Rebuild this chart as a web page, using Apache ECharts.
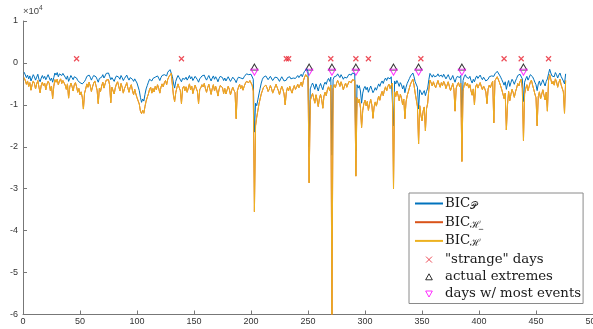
<!DOCTYPE html>
<html>
<head>
<meta charset="utf-8">
<script src="https://cdn.jsdelivr.net/npm/echarts@6/dist/echarts.min.js"></script>
<style>
  html, body { margin: 0; padding: 0; background: #fff; }
  #chart { width: 593px; height: 329px; }
</style>
</head>
<body>
<div id="chart"></div>
<script>
// Daily BIC values (one entry per day, starting at day 1)
const bicP = [
  -2200,-2600,-3500,-2900,-3800,-3100,-4300,-3600,-2800,-3300,-4100,-3400,-2700,-3900,-4500,-3600,-3000,-3700,-3200,-4000,
  -3400,-2800,-3100,-4200,-3600,-4600,-3500,-2400,-2900,-2300,-3300,-2600,-2200,-3000,-2500,-2400,-3400,-3900,-3100,-4400,
  -3700,-3000,-3500,-4000,-3300,-2900,-3600,-4200,-3800,-4700,-4300,-5000,-5400,-4400,-3900,-3200,-3600,-2900,-3400,-4100,
  -3500,-3000,-2600,-3300,-3900,-4600,-3700,-4100,-3400,-2800,-3600,-3100,-2500,-2700,-2400,-3200,-4000,-3500,-3800,-4400,
  -3600,-3100,-2700,-3400,-3900,-3000,-3500,-4200,-3700,-3300,-2900,-3600,-4100,-3500,-3200,-3900,-4400,-3800,-4300,-4800,
  -5200,-6600,-8200,-9400,-8600,-9100,-7500,-6200,-5400,-4600,-3900,-3500,-4300,-3700,-4100,-3400,-3800,-3100,-3600,-4200,
  -3500,-3000,-3400,-2800,-2500,-3100,-2200,-1900,-1600,-1400,-3200,-4800,-6000,-4400,-3600,-3000,-3500,-3900,-4500,-3700,
  -3300,-3900,-3400,-4100,-3600,-3000,-3800,-3300,-4200,-3700,-3200,-3600,-4000,-4600,-3800,-3500,-3100,-3400,-2900,-3600,
  -4100,-3500,-3000,-3700,-4300,-3600,-3100,-3900,-3300,-3800,-4500,-3700,-3200,-3000,-3500,-4200,-3600,-4300,-3800,-3300,
  -3700,-4400,-3900,-3400,-3800,-4100,-4700,-3900,-3400,-3000,-3600,-3200,-3800,-3300,-2900,-2600,-2400,-2800,-2500,-2700,
  -3100,-3900,-16500,-9600,-10200,-8800,-7400,-6100,-4800,-3900,-3400,-3600,-3100,-3500,-4000,-3700,-3200,-3600,-4200,-3800,
  -3400,-3000,-3500,-3900,-4400,-3800,-3300,-3700,-4300,-4600,-4100,-3500,-3900,-3300,-3800,-4200,-3600,-3200,-3700,-3400,
  -3000,-3500,-3100,-2700,-3300,-2500,-2000,-1600,-1400,-2100,-20000,-6200,-5400,-4800,-5500,-6300,-5000,-5800,-6700,-5600,
  -4900,-5700,-6400,-5200,-4600,-5100,-4200,-3700,-4400,-3400,-22000,-4000,-3300,-3700,-3100,-2600,-3000,-3500,-2800,-3300,
  -3900,-3400,-3000,-3600,-3200,-2700,-2500,-2900,-2400,-2200,-2600,-21000,-5200,-6000,-5400,-6700,-9600,-7200,-6100,-5600,
  -6400,-5800,-7000,-6200,-5500,-6300,-7100,-6600,-5900,-6500,-5700,-5000,-5600,-4800,-4300,-4900,-4100,-3600,-4200,-3500,
  -3200,-3800,-3300,-3000,-15000,-4300,-5000,-4200,-4800,-5600,-4700,-5200,-6200,-5400,-7100,-5800,-4900,-4300,-3700,-3100,
  -2700,-2400,-3300,-4500,-4900,-5800,-11000,-6400,-6900,-7600,-7200,-6600,-7800,-6800,-6000,-4000,-2500,-2900,-3400,-2800,
  -3300,-3700,-3100,-2600,-3200,-3600,-2900,-3400,-2700,-3100,-3800,-3300,-2800,-3500,-4100,-3600,-3000,-3900,-4600,-3700,
  -3200,-2900,-3500,-3000,-13000,-4200,-3300,-2800,-3400,-3000,-3700,-3200,-4200,-4800,-3900,-4500,-3600,-3100,-3700,-3300,
  -2900,-3500,-4000,-3400,-3800,-4300,-4700,-3900,-3300,-3700,-3100,-2700,-3200,-2600,-2300,-2000,-2200,-2900,-3400,-4000,
  -4600,-5300,-4500,-6300,-5000,-4200,-5600,-4700,-3900,-4400,-5100,-4300,-3700,-3000,-3400,-2700,-2400,-3800,-9200,-4600,
  -3800,-3200,-4100,-3500,-2800,-2500,-3300,-3900,-4600,-5200,-6600,-5000,-4300,-5400,-4700,-4000,-4800,-5500,-4400,-3800,
  -2600,-1500,-2400,-3100,-2700,-3300,-2300,-2800,-3600,-2900,-2400,-3200,-3500,-4300,-5000,-2600
];

const bicH = [
  -3500,-4200,-5100,-4300,-5600,-4700,-6500,-5200,-4300,-4900,-6200,-5000,-4200,-5800,-7100,-5300,-4600,-5500,-4800,-6400,
  -5100,-4400,-4900,-6600,-5500,-8500,-5600,-4000,-4600,-3900,-5200,-4300,-3800,-4900,-4200,-4100,-5300,-6300,-5000,-8400,
  -5800,-4800,-5600,-6700,-5200,-4700,-5700,-7000,-6100,-7600,-6900,-8200,-11000,-7200,-6200,-5000,-5800,-4600,-5500,-6800,
  -5700,-4800,-4300,-5400,-6500,-9700,-6000,-6800,-5500,-4600,-6000,-5000,-4100,-4500,-4000,-5300,-9500,-5800,-6200,-7400,
  -5900,-5000,-4500,-5600,-6700,-4900,-5800,-7200,-6100,-5500,-4700,-6000,-7000,-5800,-5200,-6600,-7600,-6300,-7400,-8300,
  -8600,-9800,-11500,-12100,-11300,-12000,-10400,-9100,-8200,-7400,-6300,-5800,-7200,-6100,-6900,-5600,-6400,-5200,-6000,-7200,
  -5800,-5000,-5700,-4700,-4200,-5200,-3900,-3300,-2900,-2500,-5100,-7800,-9200,-7100,-5900,-5000,-5900,-6600,-9700,-6100,
  -5500,-6600,-5700,-7000,-6000,-5000,-6400,-5500,-7300,-6200,-5300,-6100,-6800,-9700,-6400,-5900,-5200,-5700,-4900,-6100,
  -7000,-5900,-5100,-6300,-7500,-6100,-5200,-6700,-5600,-6500,-7900,-6300,-5400,-5100,-5900,-7300,-6100,-7400,-6500,-5600,
  -6300,-7600,-6600,-5800,-6500,-7100,-13300,-6700,-5800,-5100,-6100,-5400,-6500,-5600,-4900,-4400,-4100,-4700,-4200,-4600,
  -5300,-6700,-35500,-15000,-13000,-11400,-9800,-8600,-7400,-6600,-5800,-6100,-5300,-5900,-6800,-6300,-5400,-6100,-7200,-6500,
  -5800,-5100,-5900,-6600,-7600,-6400,-5600,-6300,-7400,-10000,-7000,-5900,-6600,-5600,-6500,-7200,-6100,-5400,-6300,-5800,
  -5100,-5900,-5300,-4600,-5600,-4200,-3400,-2800,-2500,-3600,-28600,-9000,-8000,-7300,-8400,-9600,-7600,-8800,-10400,-8500,
  -7500,-8700,-10800,-7900,-7000,-7800,-6400,-5700,-6700,-5300,-60000,-6300,-5200,-5900,-4900,-4200,-4800,-5600,-4500,-5300,
  -6400,-5500,-4800,-5800,-5100,-4400,-4100,-4700,-4000,-3700,-4200,-27000,-8300,-9500,-8600,-10700,-15400,-11400,-9700,-8900,
  -10200,-9200,-11300,-9800,-8700,-10000,-13200,-10500,-9300,-10300,-9000,-7900,-8900,-7600,-6800,-7800,-6500,-5700,-6700,-5600,
  -5100,-6100,-5300,-4800,-30000,-6900,-8000,-6700,-7700,-9000,-7500,-8300,-10000,-8600,-13300,-9300,-7800,-6900,-5900,-5000,
  -4400,-3900,-5300,-7200,-8800,-10400,-19300,-10200,-12400,-13800,-11500,-10500,-16200,-10900,-9600,-6400,-4100,-4700,-5500,-4500,
  -5300,-5900,-5000,-4200,-5100,-5800,-4700,-5400,-4400,-5000,-6100,-5300,-4500,-5600,-6600,-5800,-4900,-6300,-11500,-6000,
  -5200,-4700,-5700,-4900,-23500,-6700,-5300,-4600,-5500,-4900,-6000,-5200,-6700,-7700,-6200,-10000,-5800,-5000,-6000,-5300,
  -4700,-5600,-6400,-5500,-6100,-6900,-9700,-6200,-5300,-5900,-5000,-4400,-14300,-4200,-3800,-3300,-3600,-4700,-5500,-6400,
  -7400,-8500,-7200,-16000,-10000,-6800,-9000,-7500,-6300,-7100,-8200,-6900,-6000,-4900,-5500,-4400,-3900,-6100,-18500,-7400,
  -6100,-5200,-6600,-5600,-4600,-4100,-5300,-6300,-7400,-8300,-15000,-8000,-6900,-8600,-7500,-6400,-7700,-8800,-7000,-11500,
  -4200,-2800,-3900,-5000,-4400,-5300,-3800,-4500,-5800,-4700,-3900,-5200,-5600,-6900,-12000,-4200
];

// The underlined-H criterion coincides with BIC_H here and sits beneath it
const bicHlow = bicH.slice();

// Marked days
const strangeDays = [47, 139, 231, 233, 270, 292, 303, 349, 422, 437, 461];
const extremeDays = [203, 251, 271, 292, 325, 347, 385, 439];
const eventDays = [203, 251, 271, 292, 325, 347, 385, 439];
const strangeLevel = 1000;
const extremeLevel = -1000;
const eventLevel = -2200;

// Axis ticks (raw units, labelled in 10^4)
const xTicks = { min: 0, max: 500, step: 50 };
const yTicks = { min: -60000, max: 10000, step: 10000 };

const days = bicP.map((_, i) => i + 1);
const pairs = (vals) => vals.map((v, i) => [days[i], v]);
const flat = (ds, lvl) => ds.map(d => [d, lvl]);

const axisColor = '#777';
const labelFont = { fontFamily: 'Liberation Sans, Arial, sans-serif', fontSize: 9, color: '#333' };
const serif = 'DejaVu Serif, Liberation Serif, serif';

const crossIcon = 'path://M0,0L10,10M0,10L10,0';
const upTri = 'path://M5,0L10,9L0,9Z';
const downTri = 'path://M0,0L10,0L5,9Z';

const chart = echarts.init(document.getElementById('chart'), null, { renderer: 'canvas' });

chart.setOption({
  animation: false,
  backgroundColor: '#fff',
  grid: { left: 23, top: 21, width: 570, height: 293.5, containLabel: false, outerBoundsMode: 'none' },
  xAxis: {
    type: 'value',
    min: xTicks.min, max: xTicks.max, interval: xTicks.step,
    axisLine: { onZero: false, lineStyle: { color: axisColor, width: 1 } },
    axisTick: { inside: true, length: 4, lineStyle: { color: axisColor } },
    axisLabel: Object.assign({ margin: 3 }, labelFont),
    splitLine: { show: false }
  },
  yAxis: {
    type: 'value',
    min: yTicks.min, max: yTicks.max, interval: yTicks.step,
    name: '×10{sup|4}',
    nameLocation: 'end',
    nameGap: 3,
    nameTextStyle: {
      align: 'left', color: '#444', fontFamily: 'Liberation Sans, Arial, sans-serif', fontSize: 9.5,
      padding: [0, 0, 0, 0],
      rich: { sup: { fontSize: 6.5, color: '#444', padding: [0, 0, 6, 0], fontFamily: 'Liberation Sans, Arial, sans-serif' } }
    },
    axisLine: { show: true, onZero: false, lineStyle: { color: axisColor, width: 1 } },
    axisTick: { show: true, inside: true, length: 4, lineStyle: { color: axisColor } },
    axisLabel: Object.assign({ margin: 5, formatter: v => String(v / 10000) }, labelFont),
    splitLine: { show: false }
  },
  legend: {
    orient: 'vertical',
    left: 409, top: 193,
    backgroundColor: '#fff',
    borderColor: '#8a8a8a', borderWidth: 1,
    padding: [4, 2, 3, 5],
    itemWidth: 28, itemHeight: 6, itemGap: 4.2,
    symbolKeepAspect: true,
    itemStyle: { borderWidth: 1 },
    textStyle: {
      fontFamily: serif, fontSize: 13.3, color: '#1a1a1a', padding: [0, 0, 0, -3],
      rich: {
        m: { fontFamily: serif, fontSize: 13.3, color: '#1a1a1a' },
        s: { fontFamily: serif, fontSize: 10, color: '#1a1a1a', padding: [6, 0, 0, 0] }
      }
    },
    formatter: function (name) {
      if (name === 'BIC_P') return '{m|BIC}{s|𝒫}';
      if (name === 'BIC_Hlow') return '{m|BIC}{s|ℋ̲}';
      if (name === 'BIC_H') return '{m|BIC}{s|ℋ}';
      return name;
    },
    data: [
      { name: 'BIC_P', itemStyle: { opacity: 0 } },
      { name: 'BIC_Hlow', itemStyle: { opacity: 0 } },
      { name: 'BIC_H', itemStyle: { opacity: 0 } },
      { name: '"strange" days' },
      { name: 'actual extremes' },
      { name: 'days w/ most events' }
    ]
  },
  series: [
    {
      name: 'BIC_P', type: 'line', data: pairs(bicP), symbol: 'none',
      color: '#0072BD', lineStyle: { color: '#0072BD', width: 1 }
    },
    {
      name: 'BIC_Hlow', type: 'line', data: pairs(bicHlow), symbol: 'none',
      color: '#D95319', lineStyle: { color: '#D95319', width: 1 }
    },
    {
      name: 'BIC_H', type: 'line', data: pairs(bicH), symbol: 'none',
      color: '#EDB120', lineStyle: { color: '#EDB120', width: 1 }
    },
    {
      name: '"strange" days', type: 'scatter', data: flat(strangeDays, strangeLevel),
      symbol: crossIcon, symbolSize: 5,
      itemStyle: { color: 'rgba(0,0,0,0)', borderColor: '#e8202e', borderWidth: 1.2 }
    },
    {
      name: 'actual extremes', type: 'scatter', data: flat(extremeDays, extremeLevel),
      symbol: upTri, symbolSize: [7, 6], symbolKeepAspect: false,
      itemStyle: { color: 'rgba(255,255,255,0)', borderColor: '#000', borderWidth: 1 }
    },
    {
      name: 'days w/ most events', type: 'scatter', data: flat(eventDays, eventLevel),
      symbol: downTri, symbolSize: [7, 6], symbolKeepAspect: false,
      itemStyle: { color: 'rgba(255,255,255,0)', borderColor: '#ff00ff', borderWidth: 1 }
    }
  ]
});
</script>
</body>
</html>
